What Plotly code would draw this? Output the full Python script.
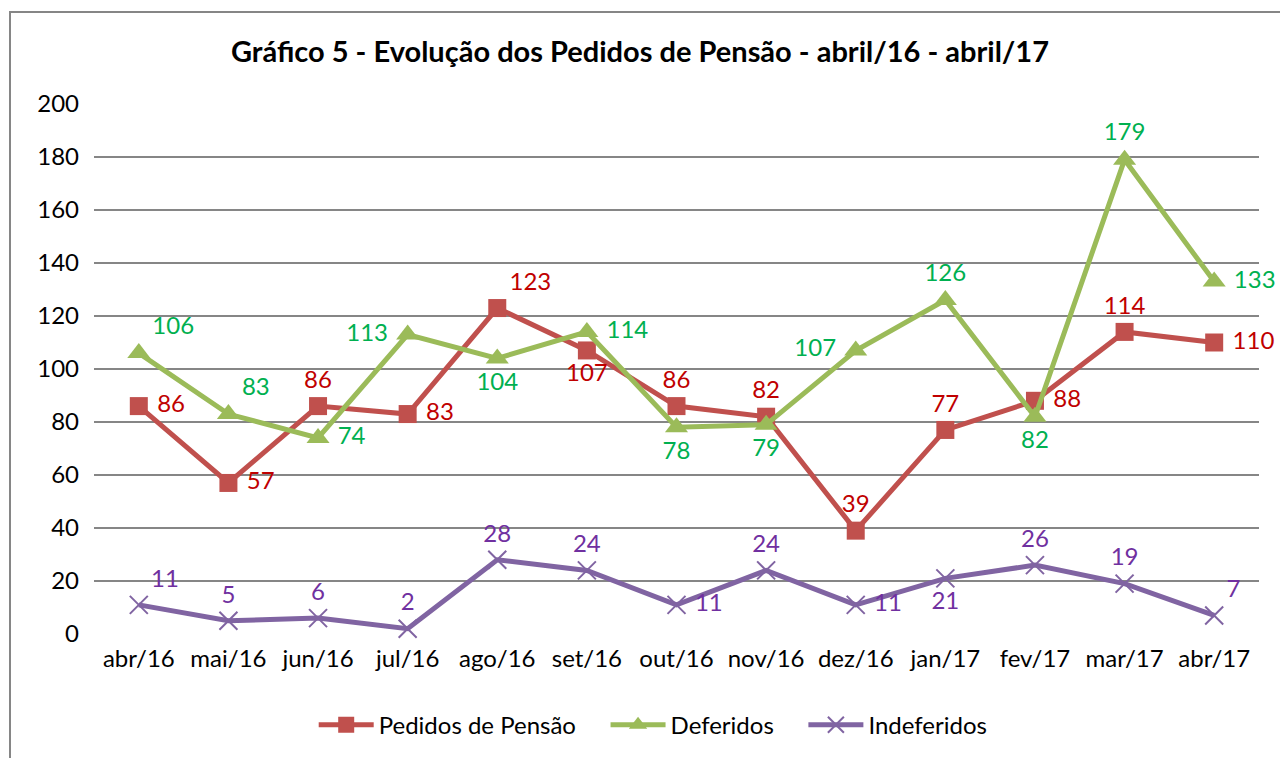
import plotly.graph_objects as go

meses = ["abr/16", "mai/16", "jun/16", "jul/16", "ago/16", "set/16", "out/16",
         "nov/16", "dez/16", "jan/17", "fev/17", "mar/17", "abr/17"]
pedidos = [86, 57, 86, 83, 123, 107, 86, 82, 39, 77, 88, 114, 110]
deferidos = [106, 83, 74, 113, 104, 114, 78, 79, 107, 126, 82, 179, 133]
indeferidos = [11, 5, 6, 2, 28, 24, 11, 24, 11, 21, 26, 19, 7]

# label placement per point, roughly as in the original
pos_ped = ["middle right", "middle right", "top center", "middle right", "top right",
           "bottom center", "top center", "top center", "top center", "top center",
           "middle right", "top center", "middle right"]
pos_def = ["top right", "top right", "middle right", "middle left", "bottom center",
           "middle right", "bottom center", "bottom center", "middle left", "top center",
           "bottom center", "top center", "middle right"]
pos_ind = ["top right", "top center", "top center", "top center", "top center",
           "top center", "middle right", "top center", "middle right", "bottom center",
           "top center", "top center", "top right"]

FONT = "Lato"
FS = 24
GAP = "\u00a0" * 4


def lab(vals, pos):
    # a little extra room for labels sitting beside the marker
    out = []
    for v, p in zip(vals, pos):
        if p == "middle right":
            out.append(" " + str(v))
        elif p == "middle left":
            out.append(str(v) + " ")
        else:
            out.append(str(v))
    return out


fig = go.Figure()

fig.add_trace(go.Scatter(
    x=meses, y=pedidos, name="Pedidos de Pensão" + GAP, mode="lines+markers+text",
    line=dict(color="#C0504D", width=5),
    marker=dict(symbol="square", size=18, color="#C0504D"),
    text=lab(pedidos, pos_ped), textposition=pos_ped,
    textfont=dict(color="#C00000", size=FS, family=FONT), cliponaxis=False))

fig.add_trace(go.Scatter(
    x=meses, y=deferidos, name="Deferidos" + GAP, mode="lines+markers+text",
    line=dict(color="#9BBB59", width=5),
    marker=dict(symbol="triangle-up", size=20, color="#9BBB59"),
    text=lab(deferidos, pos_def), textposition=pos_def,
    textfont=dict(color="#00B050", size=FS, family=FONT), cliponaxis=False))

fig.add_trace(go.Scatter(
    x=meses, y=indeferidos, name="Indeferidos", mode="lines+markers+text",
    line=dict(color="#8064A2", width=5),
    marker=dict(symbol="x-thin", size=18, line=dict(color="#8064A2", width=2)),
    text=lab(indeferidos, pos_ind), textposition=pos_ind,
    textfont=dict(color="#7030A0", size=FS, family=FONT), cliponaxis=False))

fig.update_layout(
    width=1280, height=758,
    margin=dict(l=94, r=21, t=104, b=124, autoexpand=False),
    paper_bgcolor="white", plot_bgcolor="white",
    font=dict(family=FONT, size=FS, color="black"),
    title=dict(text="<b>Gráfico 5 - Evolução dos Pedidos de Pensão - abril/16 - abril/17</b>",
               x=0.5, xanchor="center", y=0.931, yanchor="middle",
               font=dict(size=29, family=FONT, color="black")),
    xaxis=dict(range=[-0.5, len(meses) - 0.5], showgrid=False, showline=False, ticks="",
               automargin=False, tickfont=dict(size=FS), ticklabelstandoff=8),
    yaxis=dict(range=[0, 200], dtick=20, showgrid=True, gridcolor="#868686",
               gridwidth=1.5, zeroline=False, showline=False, ticks="", automargin=False,
               tickfont=dict(size=FS), ticklabelstandoff=14),
    legend=dict(orientation="h", x=0.48, xanchor="center", y=-0.172, yanchor="middle",
                font=dict(size=FS), itemwidth=55),
    shapes=[dict(type="rect", xref="paper", yref="paper",
                 x0=-0.0721, x1=1.2, y0=-0.4, y1=1.1736,
                 line=dict(color="#868686", width=2))],
)

# drop the default body margin so the figure fills the window exactly
fig.write_html("out.html", config={"displayModeBar": False},
               post_script="document.body.style.margin='0px';")
